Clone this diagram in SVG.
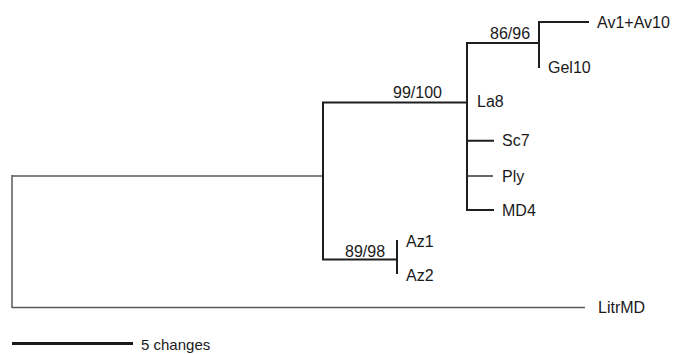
<svg xmlns="http://www.w3.org/2000/svg" width="675" height="354" viewBox="0 0 675 354">
<style>
.t{font-family:"Liberation Sans",Arial,sans-serif;font-size:16px;fill:#1a1a1a}
.s{font-size:15px}
.b{stroke:#1e1e1e;stroke-width:2;fill:none;stroke-linecap:square}
.g{stroke:#5a5a5a;stroke-width:1.5;fill:none}
.p{stroke:#333;stroke-width:1.5;fill:none}
</style>
<rect width="675" height="354" fill="#fff"/>
<g id="connectors">
<path class="g" d="M12,176 H323 M12,175 V308 M12,307.5 H585"/>
<path class="b" d="M323,102.5 V259.5 M323,102.5 H467 M467,43 V210 M467,43 H539 M539,22 V67 M539,22 H588 M467,140.7 H493 M467,210 H493 M323,259.5 H397 M397,241 V273"/>
<path class="p" d="M467,176 H493"/>
<path d="M12,343.5 H133" stroke="#1a1a1a" stroke-width="3"/>
</g>
<g id="n-av1av10"><text class="t" x="597" y="28">Av1+Av10</text></g>
<g id="n-gel10"><text class="t" x="548" y="73">Gel10</text></g>
<g id="n-la8"><text class="t" x="477" y="107">La8</text></g>
<g id="n-sc7"><text class="t" x="502" y="146">Sc7</text></g>
<g id="n-ply"><text class="t" x="502" y="182">Ply</text></g>
<g id="n-md4"><text class="t" x="502" y="216">MD4</text></g>
<g id="n-az1"><text class="t" x="406" y="247">Az1</text></g>
<g id="n-az2"><text class="t" x="406" y="281">Az2</text></g>
<g id="n-litrmd"><text class="t" x="598" y="313">LitrMD</text></g>
<g id="labels">
<text class="t" x="490" y="39">86/96</text>
<text class="t" x="393" y="98">99/100</text>
<text class="t" x="345" y="257">89/98</text>
</g>
<g id="scale"><text class="t s" x="141" y="350">5 changes</text></g>
</svg>
